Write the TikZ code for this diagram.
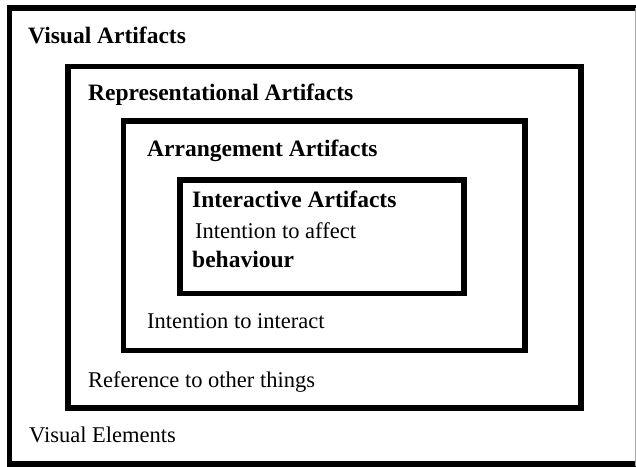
\documentclass[tikz,border=0pt]{standalone}
\usepackage{fontspec}
\setmainfont{Liberation Serif}
\usepackage{tikz}
\usetikzlibrary{positioning}
\tikzset{
    frame/.style={draw=black, line width=5.5pt, line join=miter},
    title/.style={anchor=base west, inner sep=0pt, font=\fontsize{23.5}{26}\selectfont\bfseries},
    note/.style={anchor=base west, inner sep=0pt, font=\fontsize{22.5}{26}\selectfont}
}

\begin{document}
\begin{tikzpicture}[x=1pt, y=-1pt]
    \useasboundingbox (0,0) rectangle (636,466);
    \clip (0,0) rectangle (636,466);

    % Visual elements (outer frame)
    \draw[frame] (9.5,8) rectangle (645,464);
    \draw[gray!70, line width=1pt] (635.5,8) -- (635.5,466);
    \node[title] (visual) at (28,43) {Visual Artifacts};
    \node[note] (elements) at (29,442) {Visual Elements};

    % Representational
    \draw[frame] (68,66.5) rectangle (581,408);
    \node[title] (repr) at (88,100) {Representational Artifacts};
    \node[note] (reference) at (88,387) {Reference to other things};

    % Arrangement
    \draw[frame] (123.5,121) rectangle (525,350.5);
    \node[title] (arrange) at (147,156) {Arrangement Artifacts};
    \node[note] (interact) at (147,328) {Intention to interact};

    % Interactive
    \draw[frame] (180,180) rectangle (464,293.5);
    \node[title] (interactive) at (192,207) {Interactive Artifacts};
    \node[note] (affect) at (195,238) {Intention to affect};
    \node[title] (behaviour) at (192,267) {behaviour};
\end{tikzpicture}
\end{document}
